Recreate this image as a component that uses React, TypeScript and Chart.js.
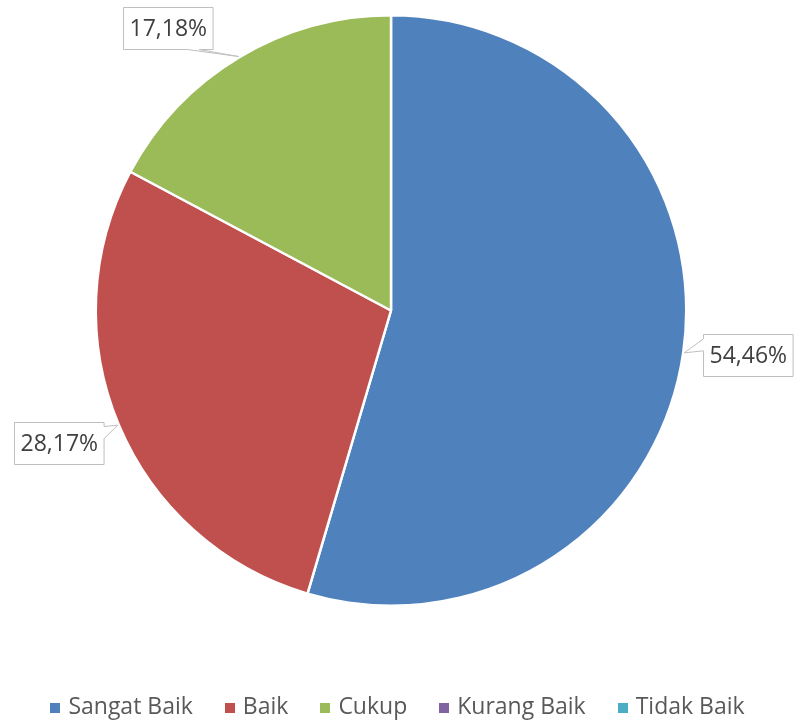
import React, { useEffect, useRef } from 'react';
import { Chart, registerables } from 'chart.js';

Chart.register(...registerables);

const categories = ['Sangat Baik', 'Baik', 'Cukup', 'Kurang Baik', 'Tidak Baik'];
const values = [54.46, 28.17, 17.18, 0, 0];
const colors = ['#4F81BD', '#C0504D', '#9BBB59', '#8064A2', '#4BACC6'];

const FONT = '"Open Sans", "DejaVu Sans", sans-serif';
const LABEL_SIZE = 23;
const LEGEND_SIZE = 23;

function fmt(v: number) {
  return v.toFixed(2).replace('.', ',') + '%';
}

const calloutPlugin = {
  id: 'callouts',
  afterDatasetsDraw(chart: any) {
    const ctx: CanvasRenderingContext2D = chart.ctx;
    const meta = chart.getDatasetMeta(0);
    ctx.save();
    ctx.font = `${LABEL_SIZE}px ${FONT}`;
    meta.data.forEach((arc: any, i: number) => {
      const v = values[i];
      if (!v) return;
      const p = arc.getProps(['x', 'y', 'startAngle', 'endAngle', 'outerRadius'], true);
      const mid = (p.startAngle + p.endAngle) / 2;
      const cos = Math.cos(mid);
      const sin = Math.sin(mid);
      const tipX = p.x + cos * (p.outerRadius + 1);
      const tipY = p.y + sin * (p.outerRadius + 1);
      const text = fmt(v);
      const tw = ctx.measureText(text).width;
      const w = tw + 12;
      const h = 42;
      const dist = p.outerRadius + 65;
      let cx = p.x + cos * dist;
      let cy = p.y + sin * dist - 7;
      const minY = 7 + h / 2;
      const maxY = chart.height - 7 - h / 2;
      if (cy < minY || cy > maxY) {
        cy = Math.min(Math.max(cy, minY), maxY);
        const dy = cy - p.y;
        const dx = Math.sqrt(Math.max(dist * dist - dy * dy, 0));
        cx = p.x + Math.sign(cos) * dx;
      }
      cx = Math.min(Math.max(cx, 2 + w / 2), chart.width - 2 - w / 2);
      const bx = Math.round(cx - w / 2) + 0.5;
      const by = Math.round(cy - h / 2) + 0.5;
      const hw = 6;
      ctx.beginPath();
      ctx.moveTo(bx, by);
      if (Math.abs(sin) > 0.7) {
        const a = Math.min(Math.max(tipX, bx + 10 + hw), bx + w - 14 - hw);
        if (sin < 0) {
          ctx.lineTo(bx + w, by);
          ctx.lineTo(bx + w, by + h);
          ctx.lineTo(a + hw, by + h);
          ctx.lineTo(tipX, tipY);
          ctx.lineTo(a - hw, by + h);
          ctx.lineTo(bx, by + h);
        } else {
          ctx.lineTo(a - hw, by);
          ctx.lineTo(tipX, tipY);
          ctx.lineTo(a + hw, by);
          ctx.lineTo(bx + w, by);
          ctx.lineTo(bx + w, by + h);
          ctx.lineTo(bx, by + h);
        }
      } else {
        const b = Math.min(Math.max(tipY - 8, by + 4 + hw), by + h - 4 - hw);
        if (cos < 0) {
          ctx.lineTo(bx + w, by);
          ctx.lineTo(bx + w, b - hw);
          ctx.lineTo(tipX, tipY);
          ctx.lineTo(bx + w, b + hw);
          ctx.lineTo(bx + w, by + h);
          ctx.lineTo(bx, by + h);
        } else {
          ctx.lineTo(bx + w, by);
          ctx.lineTo(bx + w, by + h);
          ctx.lineTo(bx, by + h);
          ctx.lineTo(bx, b + hw);
          ctx.lineTo(tipX, tipY);
          ctx.lineTo(bx, b - hw);
        }
      }
      ctx.closePath();
      ctx.fillStyle = '#FFFFFF';
      ctx.fill();
      ctx.strokeStyle = '#BFBFBF';
      ctx.lineWidth = 1;
      ctx.stroke();
      ctx.fillStyle = '#404040';
      ctx.textAlign = 'center';
      ctx.textBaseline = 'middle';
      ctx.fillText(text, bx + w / 2, by + h / 2 + 1);
    });
    ctx.restore();
  },
};

const legendPlugin = {
  id: 'customLegend',
  afterDraw(chart: any) {
    const ctx: CanvasRenderingContext2D = chart.ctx;
    ctx.save();
    ctx.font = `${LEGEND_SIZE}px ${FONT}`;
    const box = 10;
    const gap = 8;
    const spacing = 32;
    const widths = categories.map((c) => ctx.measureText(c).width);
    const total = widths.reduce((s, w) => s + box + gap + w, 0) + spacing * (categories.length - 1);
    let x = (chart.width - total) / 2;
    const y = 707;
    categories.forEach((c, i) => {
      ctx.fillStyle = colors[i];
      ctx.fillRect(Math.round(x), y - box / 2 + 1, box, box);
      ctx.fillStyle = '#595959';
      ctx.textAlign = 'left';
      ctx.textBaseline = 'middle';
      ctx.fillText(c, x + box + gap, y);
      x += box + gap + widths[i] + spacing;
    });
    ctx.restore();
  },
};

export default function App() {
  const ref = useRef<HTMLCanvasElement>(null);
  useEffect(() => {
    if (!ref.current) return;
    const chart = new Chart(ref.current, {
      type: 'pie',
      data: {
        labels: categories,
        datasets: [
          {
            data: values,
            backgroundColor: colors,
            borderColor: '#FFFFFF',
            borderWidth: 2.5,
          },
        ],
      },
      options: {
        animation: false,
        responsive: false,
        maintainAspectRatio: false,
        layout: { padding: { top: 14, bottom: 115, left: 94, right: 107 } },
        plugins: {
          legend: { display: false },
          tooltip: { enabled: false },
        },
      },
      plugins: [calloutPlugin, legendPlugin],
    });
    return () => chart.destroy();
  }, []);
  return (
    <div style={{ position: 'absolute', left: 0, top: 0, width: 795, height: 722 }}>
      <canvas ref={ref} width={795} height={722} style={{ width: 795, height: 722 }} />
    </div>
  );
}
